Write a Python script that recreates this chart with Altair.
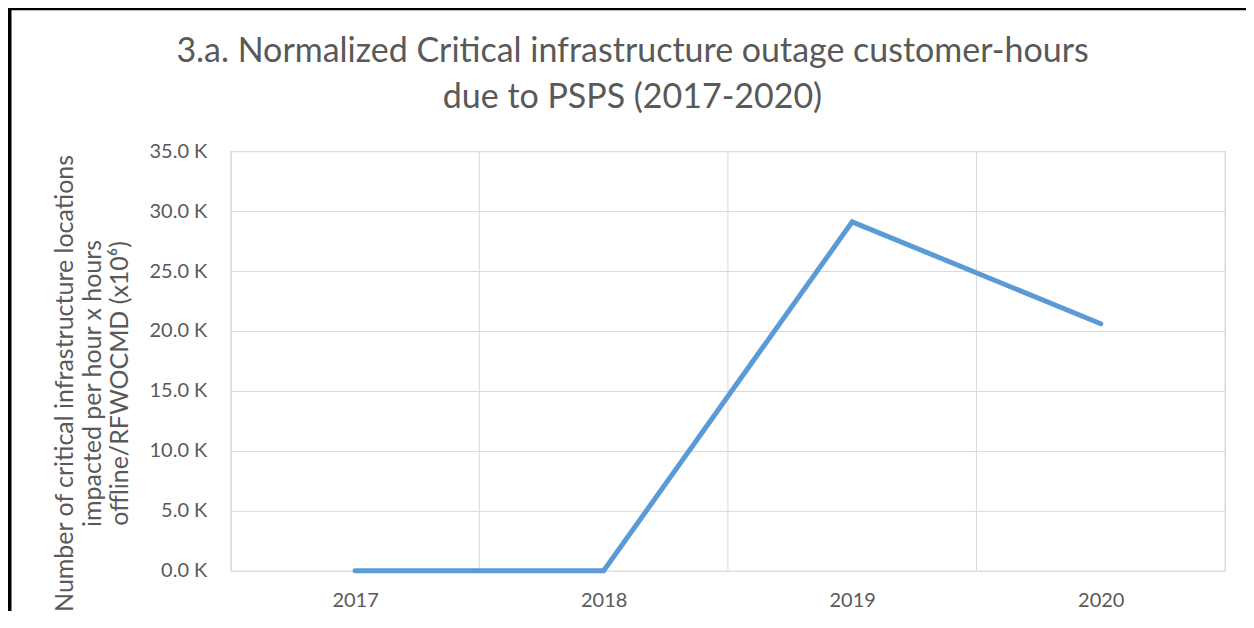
import altair as alt
import pandas as pd

# ---- data ----
years = ["2017", "2018", "2019", "2020"]
values = [0, 0, 29100, 20600]
y_ticks = [0, 5000, 10000, 15000, 20000, 25000, 30000, 35000]

title_lines = [
    "3.a. Normalized Critical infrastructure outage customer-hours",
    "due to PSPS (2017-2020)",
]
y_title_lines = [
    "Number of critical infrastructure locations",
    "impacted per hour x hours",
    "offline/RFWOCMD (x10\u2076)",
]

n = len(years)
df = pd.DataFrame({"pos": [i + 0.5 for i in range(n)], "year": years, "value": values})
bounds = pd.DataFrame({"b": list(range(n + 1))})

label_expr = "[" + ",".join(f"'{y}'" for y in years) + "][floor(datum.value)]"

W, H = 995, 420
PAD = {"left": 223, "top": 143, "right": 21, "bottom": 40}
FONT = "Lato"
GREY = "#595959"
GRID = "#d9d9d9"

x_scale = alt.Scale(domain=[0, n], nice=False, zero=False)
y_scale = alt.Scale(domain=[0, 35000], nice=False)

x_axis = alt.Axis(
    values=list(df["pos"]),
    labelExpr=label_expr,
    grid=False,
    ticks=False,
    domain=False,
    labelPadding=20,
    labelFontSize=20,
    labelFont=FONT,
    labelColor=GREY,
    title=None,
)

vgrid = alt.Chart(bounds).mark_rule(color=GRID, strokeWidth=1).encode(
    x=alt.X("b:Q", scale=x_scale, axis=x_axis)
)

line = alt.Chart(df).mark_line(
    color="#5b9bd5", strokeWidth=5, strokeCap="round", strokeJoin="miter"
).encode(
    x=alt.X("pos:Q", scale=x_scale, axis=x_axis),
    y=alt.Y(
        "value:Q",
        scale=y_scale,
        axis=alt.Axis(
            values=y_ticks,
            labelExpr="format(datum.value/1000, '.1f') + ' K'",
            grid=True,
            gridColor=GRID,
            gridWidth=1,
            ticks=False,
            domain=False,
            labelPadding=24,
            labelFontSize=20,
            labelFont=FONT,
            labelColor=GREY,
            title=y_title_lines,
            titleFont=FONT,
            titleFontSize=25,
            titleFontWeight="normal",
            titleColor=GREY,
            titleAngle=270,
            titleAlign="center",
            titleBaseline="middle",
            titleLineHeight=27.5,
            titleX=-166,
            titleY=232,
        ),
    ),
)

dummy = pd.DataFrame({"a": [0]})
title = alt.Chart(dummy).mark_text(
    text=title_lines,
    font=FONT,
    fontSize=34,
    color=GREY,
    align="center",
    baseline="alphabetic",
    lineHeight=46,
).encode(x=alt.value(633 - 231), y=alt.value(62 - 151))

border_left = alt.Chart(dummy).mark_rule(color="black", strokeWidth=4).encode(
    x=alt.value(-PAD["left"] + 1.5),
    y=alt.value(-PAD["top"]),
    y2=alt.value(H + PAD["bottom"] + 10),
)
border_top = alt.Chart(dummy).mark_rule(color="black", strokeWidth=3).encode(
    y=alt.value(-PAD["top"] + 0.5),
    x=alt.value(-PAD["left"]),
    x2=alt.value(W + PAD["right"] + 10),
)

chart = (
    alt.layer(vgrid, line, title, border_left, border_top)
    .properties(
        width=W,
        height=H,
        autosize=alt.AutoSizeParams(type="none"),
        padding=PAD,
    )
    .configure_view(stroke=None)
    .configure(background="white")
)

chart.save("out.html", embed_options={"renderer": "svg", "actions": False})
